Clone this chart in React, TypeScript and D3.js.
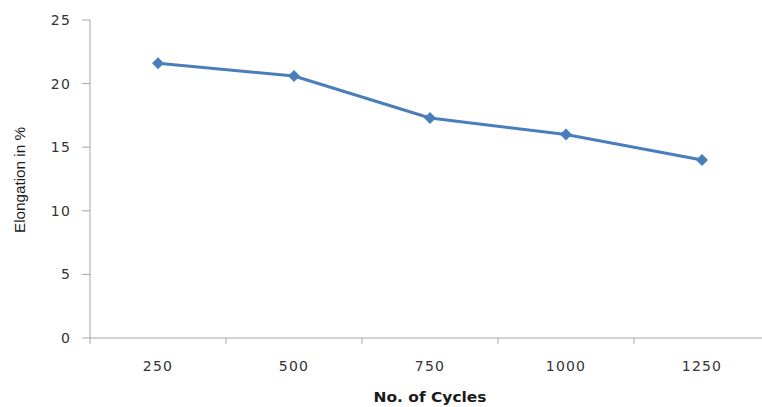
import React from "react";
import * as d3 from "d3";

const categories = ["250", "500", "750", "1000", "1250"];
const elongation = [21.6, 20.6, 17.3, 16.0, 14.0];
const yTicks = [0, 5, 10, 15, 20, 25];

export default function App() {
  const W = 762, H = 407;
  const left = 90, right = 770, top = 20, bottom = 338;
  const x = d3.scaleBand<string>().domain(categories).range([left, right]);
  const y = d3.scaleLinear().domain([0, 25]).range([bottom, top]);
  const pts = categories.map((c, i) => [x(c)! + x.bandwidth() / 2, y(elongation[i])] as [number, number]);
  const line = d3.line()(pts) || "";
  const axisColor = "#a6a6a6";
  const textColor = "#333333";
  const boundaries = categories.map((c) => x(c)!).concat([right]);
  return (
    <svg width={W} height={H} style={{ position: "absolute", left: 0, top: 0, background: "#fff" }}>
      <line x1={left} x2={left} y1={top} y2={bottom} stroke={axisColor} strokeWidth={1} />
      <line x1={left} x2={W} y1={bottom} y2={bottom} stroke={axisColor} strokeWidth={1} />
      {yTicks.map((t) => (
        <g key={t}>
          <line x1={82} x2={left} y1={y(t)} y2={y(t)} stroke={axisColor} />
          <text x={71} y={y(t)} dy="0.36em" textAnchor="end" fontFamily="DejaVu Sans" fontSize={14} fill={textColor} letterSpacing={1.2}>
            {t}
          </text>
        </g>
      ))}
      {boundaries.map((b, i) => (
        <line key={i} x1={b} x2={b} y1={bottom} y2={bottom + 6} stroke={axisColor} />
      ))}
      {categories.map((c) => (
        <text key={c} x={x(c)! + x.bandwidth() / 2} y={371} textAnchor="middle" fontFamily="DejaVu Sans" fontSize={14} fill={textColor} letterSpacing={1.2}>
          {c}
        </text>
      ))}
      <text x={430} y={402} textAnchor="middle" fontFamily="DejaVu Sans" fontWeight="bold" fontSize={13.5} fill="#1a1a1a" textLength={113} lengthAdjust="spacingAndGlyphs">
        No. of Cycles
      </text>
      <text transform="translate(25,180) rotate(-90)" textAnchor="middle" fontFamily="Liberation Sans" fontSize={15} fill="#1a1a1a" textLength={106} lengthAdjust="spacingAndGlyphs">
        Elongation in %
      </text>
      <path d={line} fill="none" stroke="#4a7ebb" strokeWidth={3} strokeLinejoin="round" />
      {pts.map(([px, py], i) => (
        <path key={i} d={`M${px - 6},${py} L${px},${py - 6} L${px + 6},${py} L${px},${py + 6} Z`} fill="#4a7ebb" />
      ))}
    </svg>
  );
}
